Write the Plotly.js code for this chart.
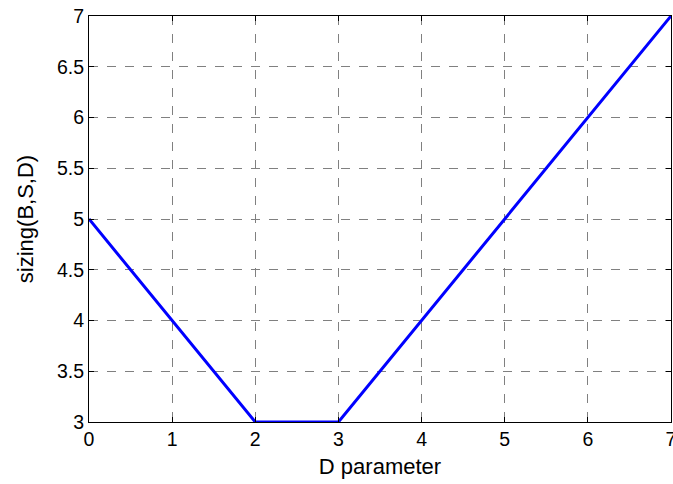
<!DOCTYPE html>
<html>
<head>
<meta charset="utf-8">
<script src="https://cdn.plot.ly/plotly-3.0.1.min.js"></script>
<style>html,body{margin:0;padding:0;background:#fff;}#chart{width:673px;height:484px;}</style>
</head>
<body>
<div id="chart"></div>
<script>
const dValues = [0, 2, 3, 7];
const sizingValues = [5, 3, 3, 7];
const xTicks = [0, 1, 2, 3, 4, 5, 6, 7];
const yTicks = [3, 3.5, 4, 4.5, 5, 5.5, 6, 6.5, 7];
const xTitle = 'D parameter';
const yTitle = 'sizing(B,S,D)';

const fontFam = 'Liberation Sans, Arial, sans-serif';
const axisCommon = {
  showline: true, linecolor: '#000', linewidth: 1, mirror: 'ticks',
  ticks: 'inside', ticklen: 5, tickcolor: '#000',
  showgrid: true, gridcolor: '#808080', griddash: 'dash', gridwidth: 1,
  zeroline: false, ticklabeloverflow: 'allow',
  tickfont: {family: fontFam, size: 19.5, color: '#000'}
};

Plotly.newPlot('chart', [{
  x: dValues, y: sizingValues, type: 'scatter', mode: 'lines',
  line: {color: '#0000ff', width: 3}, hoverinfo: 'skip'
}], {
  width: 673, height: 484,
  margin: {l: 89, r: 2, t: 16, b: 62},
  paper_bgcolor: '#fff', plot_bgcolor: '#fff',
  showlegend: false,
  xaxis: Object.assign({}, axisCommon, {
    range: [0, 7], tickvals: xTicks, ticktext: xTicks.map(String),
    title: {text: xTitle, font: {family: fontFam, size: 22, color: '#000'}, standoff: 9}
  }),
  yaxis: Object.assign({}, axisCommon, {
    range: [3, 7], tickvals: yTicks, ticktext: yTicks.map(String),
    title: {text: yTitle, font: {family: fontFam, size: 22, color: '#000'}, standoff: 17}
  })
}, {displayModeBar: false, staticPlot: true});
</script>
</body>
</html>
